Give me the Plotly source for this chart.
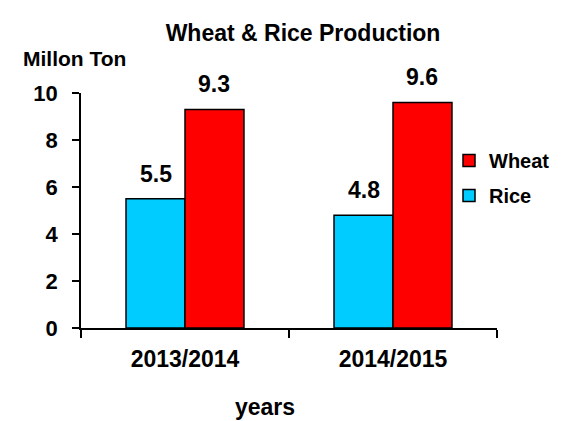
import plotly.graph_objects as go

categories = ["2013/2014", "2014/2015"]
rice = [5.5, 4.8]
wheat = [9.3, 9.6]
labels_rice = ["5.5", "4.8"]
labels_wheat = ["9.3", "9.6"]
title_text = "Wheat & Rice Production"
y_title = "Millon Ton"
x_title = "years"

W, H = 562, 421
FONT = "Liberation Sans, Arial, sans-serif"
bargap = 0.433

fig = go.Figure()
fig.add_trace(go.Bar(name="Rice", x=categories, y=rice, marker=dict(color="#00CCFF", line=dict(color="black", width=1.5)),
                     legendgroup="r", legendrank=2))
fig.add_trace(go.Bar(name="Wheat", x=categories, y=wheat, marker=dict(color="#FF0000", line=dict(color="black", width=1.5)),
                     legendgroup="w", legendrank=1))

ml, mr, mt, mb = 73, 73, 85, 100.5
pw, ph = W - ml - mr, H - mt - mb

off = (1 - bargap) / 4
annotations = []
for i in range(len(categories)):
    for val, lab, sign in ((rice[i], labels_rice[i], -1), (wheat[i], labels_wheat[i], 1)):
        annotations.append(dict(x=i + sign * off, y=val, xref="x", yref="y", text=lab, showarrow=False,
                                yanchor="bottom", yshift=10, font=dict(size=23, color="black", family=FONT, weight="bold")))


def pix(px, py):
    return (px - ml) / pw, 1 - (py - mt) / ph


ax, ay = pix(66, 50.5)
annotations.append(dict(x=ax, y=ay, xref="paper", yref="paper", text=y_title, showarrow=False,
                        xanchor="center", yanchor="middle", font=dict(size=21, color="black", family=FONT, weight="bold")))
bx, by = pix(257, 400)
annotations.append(dict(x=bx, y=by, xref="paper", yref="paper", text=x_title, showarrow=False,
                        xanchor="center", yanchor="middle", font=dict(size=23, color="black", family=FONT, weight="bold")))

fig.update_layout(
    width=W, height=H,
    margin=dict(l=ml, r=mr, t=mt, b=mb, pad=0, autoexpand=False),
    paper_bgcolor="white", plot_bgcolor="white",
    font=dict(family=FONT, color="black", weight="bold"),
    title=dict(text=title_text, x=295 / W, xref="container", xanchor="center", y=1 - 24.5 / H, yref="container", yanchor="middle",
               font=dict(size=23, family=FONT, color="black", weight="bold")),
    barmode="group", bargap=bargap, bargroupgap=0,
    showlegend=True,
    legend=dict(x=441 / W, xref="container", y=1 - 133 / H, yref="container", xanchor="left", yanchor="top",
                traceorder="grouped", tracegroupgap=6, font=dict(size=20, family=FONT, color="black", weight="bold"),
                bgcolor="rgba(0,0,0,0)"),
    annotations=annotations,
)
fig.update_xaxes(showline=True, linecolor="black", linewidth=1.5, ticks="outside", tickson="boundaries", ticklen=8,
                 tickwidth=1.5, tickcolor="black", tickfont=dict(size=23, family=FONT, weight="bold"), showgrid=False,
                 ticklabelstandoff=10)
fig.update_yaxes(range=[0, 10], dtick=2, showline=True, linecolor="black", linewidth=1.5, ticks="outside", ticklen=7,
                 tickwidth=1.5, tickcolor="black", tickfont=dict(size=22, family=FONT, weight="bold"), showgrid=False,
                 zeroline=False, ticklabelstandoff=10)

fig.write_html("out.html")
